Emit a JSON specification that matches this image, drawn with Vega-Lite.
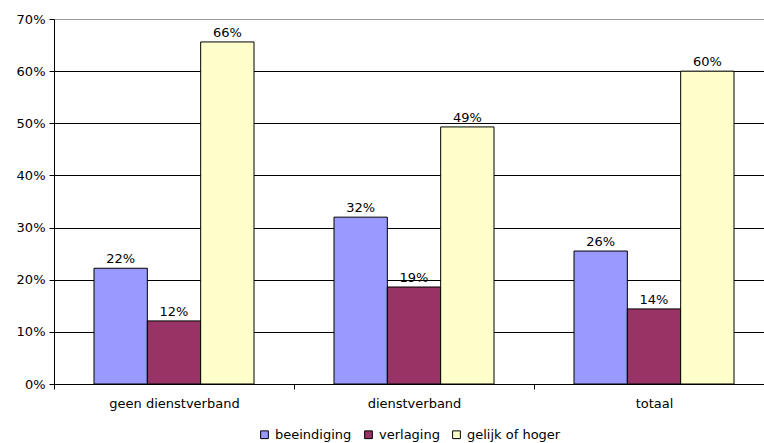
{
  "$schema": "https://vega.github.io/schema/vega-lite/v6.json",
  "width": 720,
  "height": 365,
  "autosize": "none",
  "padding": {"left": 54, "top": 19, "right": 0, "bottom": 59},
  "background": "white",
  "config": {
    "font": "DejaVu Sans",
    "view": {"stroke": "#999999", "strokeWidth": 1}
  },
  "data": {
    "values": [
      {"group": "geen dienstverband", "series": "beeindiging", "value": 0.222},
      {"group": "geen dienstverband", "series": "verlaging", "value": 0.121},
      {"group": "geen dienstverband", "series": "gelijk of hoger", "value": 0.656},
      {"group": "dienstverband", "series": "beeindiging", "value": 0.320},
      {"group": "dienstverband", "series": "verlaging", "value": 0.186},
      {"group": "dienstverband", "series": "gelijk of hoger", "value": 0.493},
      {"group": "totaal", "series": "beeindiging", "value": 0.255},
      {"group": "totaal", "series": "verlaging", "value": 0.144},
      {"group": "totaal", "series": "gelijk of hoger", "value": 0.600}
    ]
  },
  "encoding": {
    "x": {
      "field": "group", "type": "nominal",
      "sort": ["geen dienstverband", "dienstverband", "totaal"],
      "scale": {"paddingInner": 0, "paddingOuter": 0},
      "axis": {
        "title": null, "labelAngle": 0, "labelFontSize": 13, "labelColor": "black",
        "labelPadding": 8, "tickBand": "extent", "tickColor": "black", "tickSize": 5,
        "domainColor": "black"
      }
    },
    "xOffset": {
      "field": "series", "type": "nominal",
      "sort": ["beeindiging", "verlaging", "gelijk of hoger"],
      "scale": {"paddingInner": 0, "paddingOuter": 0.75}
    },
    "y": {
      "field": "value", "type": "quantitative",
      "scale": {"domain": [0, 0.7], "nice": false},
      "axis": {
        "title": null, "format": ".0%", "values": [0, 0.1, 0.2, 0.3, 0.4, 0.5, 0.6, 0.7],
        "labelFontSize": 13, "labelColor": "black", "labelPadding": 4,
        "tickColor": "black", "tickSize": 5, "domainColor": "black",
        "grid": true,
        "gridColor": {"condition": {"test": "datum.value >= 0.69", "value": "#999999"}, "value": "black"},
        "gridOpacity": 1
      }
    }
  },
  "layer": [
    {
      "mark": {"type": "bar", "stroke": "black", "strokeWidth": 1},
      "encoding": {
        "color": {
          "field": "series", "type": "nominal",
          "sort": ["beeindiging", "verlaging", "gelijk of hoger"],
          "scale": {"domain": ["beeindiging", "verlaging", "gelijk of hoger"], "range": ["#9999FF", "#993366", "#FFFFCC"]},
          "legend": {
            "title": null, "orient": "none", "direction": "horizontal",
            "legendX": 204, "legendY": 409,
            "symbolType": "square", "symbolSize": 60, "symbolStrokeColor": "black", "symbolStrokeWidth": 1,
            "symbolOpacity": 1, "labelFontSize": 13, "labelColor": "black", "columnPadding": 10, "labelOffset": 4
          }
        }
      }
    },
    {
      "mark": {"type": "text", "dy": -9, "fontSize": 13, "color": "black"},
      "encoding": {
        "text": {"field": "value", "type": "quantitative", "format": ".0%"}
      }
    }
  ]
}
